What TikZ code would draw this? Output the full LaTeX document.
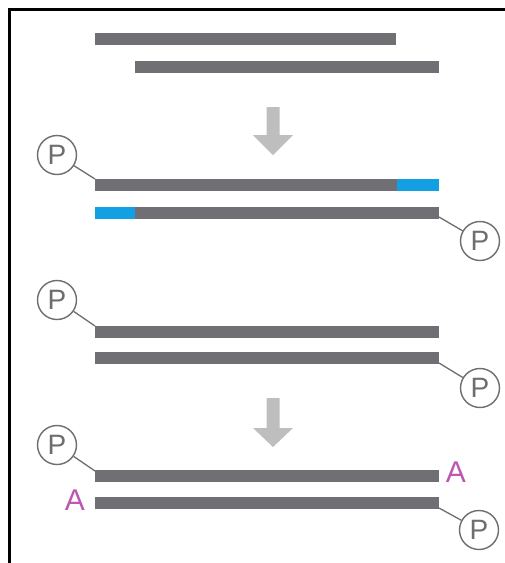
\documentclass[tikz,border=0pt]{standalone}
\usepackage{fontspec}
\setmainfont{Liberation Sans}
\definecolor{bargray}{RGB}{112,112,116}
\definecolor{dnablue}{RGB}{18,160,226}
\definecolor{pgray}{RGB}{110,110,110}
\definecolor{arrowgray}{RGB}{190,190,190}
\definecolor{amag}{RGB}{188,88,178}
\begin{document}
\begin{tikzpicture}[x=1pt,y=-1pt,
  bar/.style={fill=bargray,draw=none,rectangle,inner sep=0pt,minimum height=12pt,anchor=west},
  bluebar/.style={fill=dnablue,draw=none,rectangle,inner sep=0pt,minimum height=12pt,anchor=west},
  phos/.style={circle,draw=pgray,line width=1.4pt,minimum size=39pt,inner sep=0pt,text=pgray,font=\fontsize{28}{28}\selectfont},
  link/.style={draw=pgray,line width=1.3pt},
  base/.style={text=amag,font=\fontsize{30}{30}\selectfont,inner sep=0pt},
  bigarrow/.style={fill=arrowgray,draw=none}]
\useasboundingbox (0,0) rectangle (505,563);
\fill[white] (0,0) rectangle (505,563);
% frame (cropped)
\draw[line width=3pt,black] (9,563) -- (9,9.5) -- (505,9.5);
% top: two fragments
\node[bar,minimum width=301pt] (b1) at (95,39) {};
\node[bar,minimum width=304pt] (b2) at (135,67) {};
% arrow 1
\fill[bigarrow] (266.5,107) -- (279.5,107) -- (279.5,135) -- (293,135) -- (273,155) -- (253,135) -- (266.5,135) -- cycle;
% second block: phosphorylated with blue ends
\node[bar,minimum width=302pt] (b3) at (95,184.5) {};
\node[bluebar,minimum width=42pt] (b3e) at (397,184.5) {};
\node[bar,minimum width=304pt] (b4) at (135,212.5) {};
\node[bluebar,minimum width=40pt] (b4e) at (95,212.5) {};
\node[phos] (p1) at (57,155) {P};
\node[phos] (p2) at (480,241) {P};
\coordinate (b3s) at (95,179);
\coordinate (b4s) at (439,217);
\draw[link] (p1) -- (b3s);
\draw[link] (p2) -- (b4s);
% third block
\node[bar,minimum width=344pt] (b5) at (95,331.5) {};
\node[bar,minimum width=344pt] (b6) at (95,358) {};
\node[phos] (p3) at (57,300) {P};
\node[phos] (p4) at (480,388) {P};
\coordinate (b5s) at (95,326);
\coordinate (b6s) at (439,363);
\draw[link] (p3) -- (b5s);
\draw[link] (p4) -- (b6s);
% arrow 2
\fill[bigarrow] (266.5,398) -- (279.5,398) -- (279.5,428) -- (293,428) -- (273,447) -- (253,428) -- (266.5,428) -- cycle;
% fourth block: A-tailing
\node[bar,minimum width=344pt] (b7) at (95,476) {};
\node[bar,minimum width=344pt] (b8) at (95,503) {};
\node[phos] (p5) at (57,445) {P};
\node[phos] (p6) at (479,530) {P};
\coordinate (b7s) at (95,471);
\coordinate (b8s) at (439,508);
\draw[link] (p5) -- (b7s);
\draw[link] (p6) -- (b8s);
\node[base] (a1) at (456,472) {A};
\node[base] (a2) at (75,500) {A};
\end{tikzpicture}
\end{document}
